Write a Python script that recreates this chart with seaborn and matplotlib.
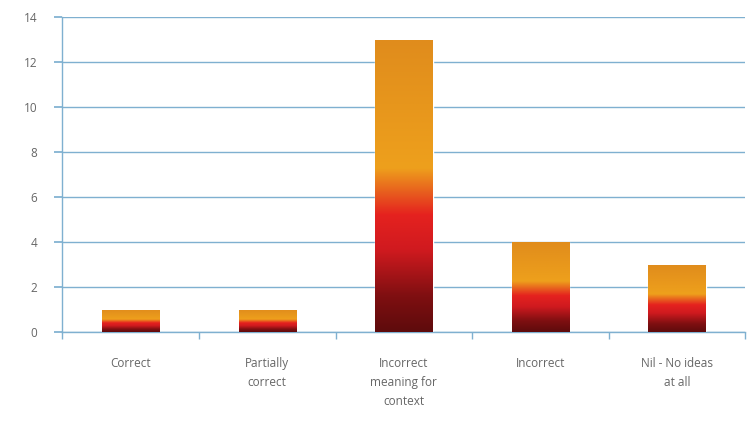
import numpy as np
import pandas as pd
import matplotlib
matplotlib.use("Agg")
import matplotlib.pyplot as plt
from matplotlib.colors import LinearSegmentedColormap
import seaborn as sns

categories = ["Correct", "Partially\ncorrect", "Incorrect\nmeaning for\ncontext",
              "Incorrect", "Nil - No ideas\nat all"]
counts = [1, 1, 13, 4, 3]
yticks = [0, 2, 4, 6, 8, 10, 12, 14]

df = pd.DataFrame({"category": categories, "count": counts})

sns.set_theme(style="white")
plt.rcParams["font.family"] = ["Open Sans", "DejaVu Sans"]

fig = plt.figure(figsize=(7.52, 4.28), dpi=100)
ax = fig.add_axes([0.083, 0.224, 0.908, 0.736])

sns.barplot(data=df, x="category", y="count", color="#e8921c", width=0.42,
            ax=ax, zorder=2)

# vertical gradient (dark red at the base, orange at the top) clipped to each bar
grad = LinearSegmentedColormap.from_list("bar", [
    (0.0, "#5e0b0c"), (0.12, "#7e0f11"), (0.28, "#d01a1f"), (0.40, "#e5221f"),
    (0.48, "#e8601e"), (0.56, "#eea01c"), (1.0, "#e08c1c")])
g = np.linspace(0, 1, 256).reshape(-1, 1)
for p in ax.patches:
    x0, y0 = p.get_x(), p.get_y()
    w, h = p.get_width(), p.get_height()
    im = ax.imshow(g, cmap=grad, origin="lower", aspect="auto",
                   extent=[x0, x0 + w, y0, y0 + h], zorder=3)
    im.set_clip_path(p)

ax.set_xlim(-0.5, len(categories) - 0.5)
ax.set_ylim(0, 14)
ax.set_yticks(yticks)
ax.yaxis.grid(True, color="#7fb0d0", linewidth=1)
ax.set_axisbelow(True)
ax.set_xlabel("")
ax.set_ylabel("")

for s in ["top", "right"]:
    ax.spines[s].set_visible(False)
for s in ["left", "bottom"]:
    ax.spines[s].set_color("#7fb0d0")
    ax.spines[s].set_linewidth(1)

ax.tick_params(axis="y", left=True, length=6, color="#7fb0d0",
               labelsize=8.5, labelcolor="#666666", pad=12)
ax.tick_params(axis="x", bottom=False, labelsize=8.5, labelcolor="#666666", pad=12)
ax.set_xticks(range(len(categories)))
ax.set_xticklabels(categories, linespacing=1.6)
ax.set_xticks(np.arange(-0.5, len(categories), 1), minor=True)
ax.tick_params(axis="x", which="minor", bottom=True, length=5, color="#7fb0d0")

fig.savefig("out.png", dpi=100, facecolor="white")
